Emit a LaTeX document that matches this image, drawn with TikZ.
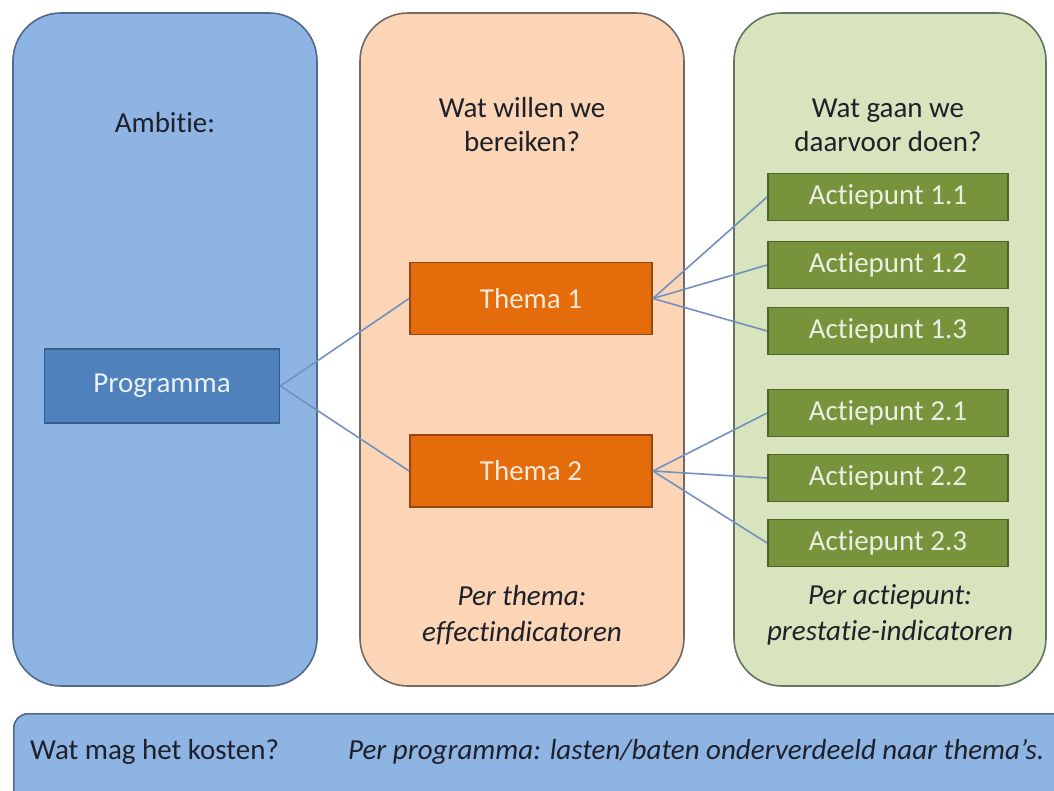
\documentclass[tikz,border=0pt]{standalone}
\usepackage{fontspec}
\setmainfont{Carlito}[Ligatures=NoCommon]
\definecolor{bluecol}{RGB}{142,180,227}
\definecolor{bluedraw}{RGB}{80,106,142}
\definecolor{orcol}{RGB}{251,213,181}
\definecolor{ordraw}{RGB}{115,105,100}
\definecolor{grcol}{RGB}{215,228,189}
\definecolor{grdraw}{RGB}{100,115,98}
\definecolor{progfill}{RGB}{79,129,189}
\definecolor{progdraw}{RGB}{56,93,138}
\definecolor{themfill}{RGB}{228,108,10}
\definecolor{themdraw}{RGB}{150,70,20}
\definecolor{actfill}{RGB}{119,147,60}
\definecolor{actdraw}{RGB}{79,98,40}
\definecolor{linkcol}{RGB}{115,145,190}
\definecolor{headtxt}{RGB}{30,32,42}
\begin{document}
\begin{tikzpicture}[x=1pt,y=-1pt,
  every node/.style={font=\fontsize{29}{34}\selectfont},
  column/.style={draw, line width=1.6pt, rounded corners=48pt, inner sep=0pt},
  boxbase/.style={draw, line width=1.8pt, inner sep=0pt},
  progbox/.style={boxbase, fill=progfill, draw=progdraw, text=white!88!progfill, minimum width=235, minimum height=74},
  themebox/.style={boxbase, fill=themfill, draw=themdraw, text=white!85!themfill, minimum width=242, minimum height=72},
  actbox/.style={boxbase, fill=actfill, draw=actdraw, text=white!85!actfill, minimum width=240, minimum height=47},
  headtext/.style={text=headtxt, align=center},
  notetext/.style={text=headtxt, align=center, font=\fontsize{29}{36}\selectfont\itshape},
  link/.style={draw=linkcol, line width=1.6pt}
]
\useasboundingbox (0,0) rectangle (1054,791);
\fill[white] (0,0) rectangle (1054,791);

% columns
\node[column, fill=bluecol, draw=bluedraw, minimum width=304, minimum height=673] (col1) at (165,349.5) {};
\node[column, fill=orcol, draw=ordraw, minimum width=324, minimum height=673] (col2) at (522,349.5) {};
\node[column, fill=grcol, draw=grdraw, minimum width=312, minimum height=673] (col3) at (890,349.5) {};

% bottom bar
\node[draw=bluedraw, fill=bluecol, line width=1.6pt, rounded corners=14pt, minimum width=1080, minimum height=100, inner sep=0pt, anchor=north west] (bar) at (13,713) {};

% headings
\node[headtext] (amb) at (165,123) {Ambitie:};
\node[headtext] (q1) at (522,125) {Wat willen we\\bereiken?};
\node[headtext] (q2) at (888,125) {Wat gaan we\\daarvoor doen?};

% boxes
\node[progbox] (prog) at (162,386) {Programma};
\node[themebox] (th1) at (531,298.5) {Thema 1};
\node[themebox] (th2) at (531,471) {Thema 2};
\node[actbox] (a11) at (888,197) {Actiepunt 1.1};
\node[actbox] (a12) at (888,265) {Actiepunt 1.2};
\node[actbox] (a13) at (888,331) {Actiepunt 1.3};
\node[actbox] (a21) at (888,413) {Actiepunt 2.1};
\node[actbox] (a22) at (888,478) {Actiepunt 2.2};
\node[actbox] (a23) at (888,543) {Actiepunt 2.3};

% notes
\node[notetext] (n1) at (522,615) {Per thema:\\effectindicatoren};
\node[notetext] (n2) at (890,615) {Per actiepunt:\\prestatie-indicatoren};

% bottom texts
\node[text=headtxt, anchor=west, inner sep=0pt] (kost) at (30,752) {Wat mag het kosten?};
\node[text=headtxt, anchor=west, inner sep=0pt, font=\fontsize{29}{34}\selectfont\itshape] (lb) at (348,752) {Per programma: lasten/baten onderverdeeld naar thema's.};

% connectors
\draw[link] (prog.east) -- (th1.west);
\draw[link] (prog.east) -- (th2.west);
\foreach \t in {a11,a12,a13} \draw[link] (th1.east) -- (\t.west);
\foreach \t in {a21,a22,a23} \draw[link] (th2.east) -- (\t.west);
\end{tikzpicture}
\end{document}
